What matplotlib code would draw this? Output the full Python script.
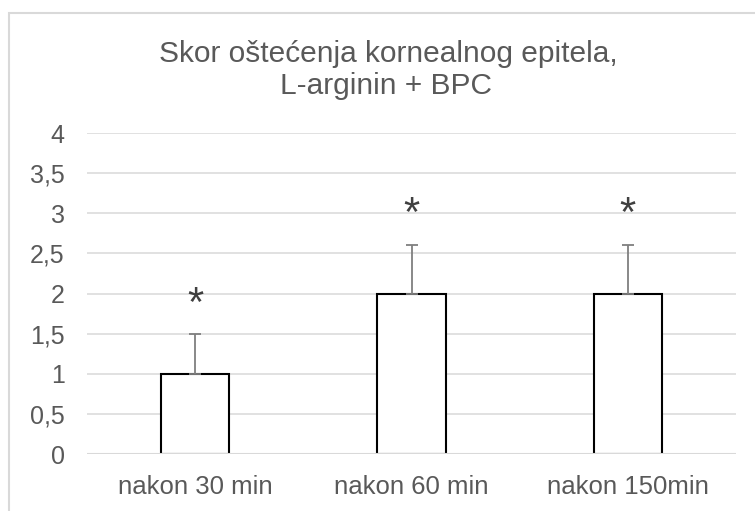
import numpy as np
import matplotlib
matplotlib.use("Agg")
import matplotlib.pyplot as plt
from matplotlib.patches import Rectangle
from matplotlib.transforms import offset_copy

plt.rcParams['font.family'] = ['Liberation Sans', 'DejaVu Sans']

# data
categories = ['nakon 30 min', 'nakon 60 min', 'nakon 150min']
values = [1, 2, 2]
errors_up = [0.5, 0.6, 0.6]
star_y = [1.97, 3.09, 3.09]
yticks = [0, 0.5, 1, 1.5, 2, 2.5, 3, 3.5, 4]
ytick_labels = ['0', '0,5', '1', '1,5', '2', '2,5', '3', '3,5', '4']

text_color = '#595959'
grid_color = '#d9d9d9'

fig = plt.figure(figsize=(7.55, 5.11), dpi=100)
ax = fig.add_axes([87 / 755, 1 - 454 / 511, 649 / 755, 321 / 511])

x = np.arange(len(categories))
ax.bar(x, values, width=0.315, color='white', edgecolor='black', linewidth=1.5, zorder=2)
ax.errorbar(x, values, yerr=[np.zeros(len(values)), errors_up], fmt='none',
            ecolor='#7f7f7f', elinewidth=1.3, capsize=4.5, capthick=1.3, zorder=3)
ax.axhline(0, color=grid_color, linewidth=1.5, zorder=4)

# asterisks, shifted so the glyph centre sits on star_y
star_fs = 30
star_tr = offset_copy(ax.transData, fig=fig, y=-0.47 * star_fs, units='points')
for xi, yi in zip(x, star_y):
    ax.text(xi, yi, '*', ha='center', va='baseline', fontsize=star_fs,
            color='#404040', transform=star_tr, zorder=5)

ax.set_xlim(-0.5, 2.5)
ax.set_ylim(0, 4)
ax.set_yticks(yticks)
ax.set_yticklabels(ytick_labels)
ax.set_xticks(x)
ax.set_xticklabels(categories)
ax.tick_params(axis='both', length=0, labelsize=18, colors=text_color)
ax.tick_params(axis='x', labelsize=18.5, pad=15)
ax.tick_params(axis='y', pad=16)
ax.yaxis.grid(True, color=grid_color, linewidth=1.1, zorder=0)
ax.set_axisbelow(True)
for s in ax.spines.values():
    s.set_visible(False)

fig.text(388 / 755, 1 - 62 / 511, 'Skor oštećenja kornealnog epitela,',
         ha='center', va='baseline', fontsize=21.5, color=text_color)
fig.text(386 / 755, 1 - 94 / 511, 'L-arginin + BPC',
         ha='center', va='baseline', fontsize=21.5, color=text_color)

# outer chart frame
fig.patches.append(Rectangle((9 / 755, -0.1), 1.2, 1 - 13 / 511 + 0.1, transform=fig.transFigure,
                             fill=False, edgecolor=grid_color, linewidth=1.5))

fig.savefig('out.png', dpi=100)
